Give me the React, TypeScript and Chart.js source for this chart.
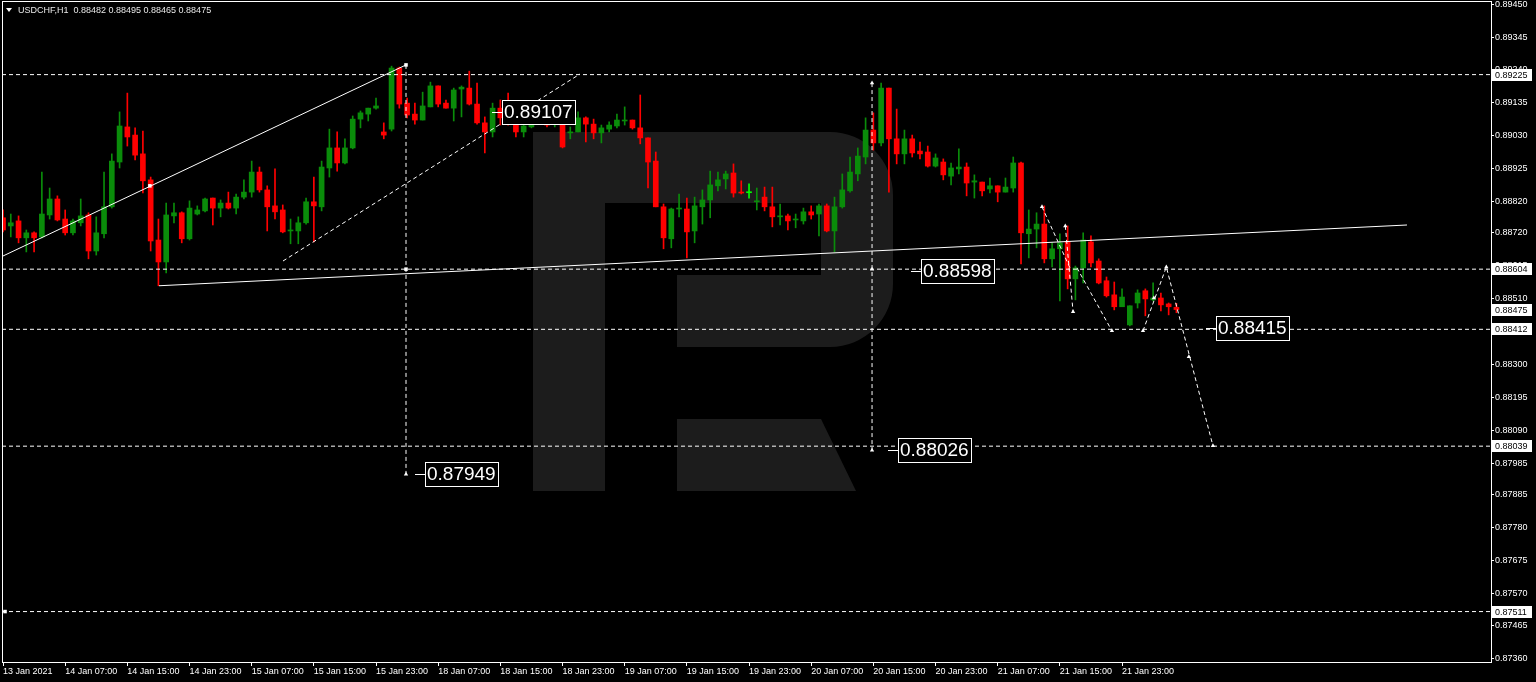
import React, { useEffect, useRef } from "react";
import { Chart, registerables } from "chart.js";

Chart.register(...registerables);

// ---------- DATA ----------
const symbolTitle = "USDCHF,H1";
const headerOHLC = ["0.88482", "0.88495", "0.88465", "0.88475"];

const opens = [
  0.88768, 0.88742, 0.88758, 0.88704, 0.8872, 0.88707, 0.88777, 0.88828, 0.88764, 0.8872,
  0.88752, 0.88777, 0.88662, 0.88717, 0.88803, 0.88946, 0.89058, 0.89032, 0.88972, 0.88889,
  0.88697, 0.88627, 0.88774, 0.88784, 0.88701, 0.8878, 0.8879, 0.88831, 0.88799, 0.88815,
  0.88799, 0.88834, 0.8885, 0.88914, 0.88857, 0.88806, 0.88793, 0.88726, 0.88726, 0.88752,
  0.88819, 0.88803, 0.88927, 0.88991, 0.88943, 0.88991, 0.89083, 0.89099, 0.89118, 0.89042,
  0.89051, 0.89246, 0.89134, 0.89099, 0.8908, 0.89122, 0.89189, 0.89134, 0.89118, 0.89179,
  0.89182, 0.89131, 0.89071, 0.89042, 0.89118, 0.89096, 0.89083, 0.89042, 0.89058, 0.8909,
  0.8909, 0.89071, 0.89087, 0.89039, 0.89042, 0.89087, 0.89067, 0.89039, 0.89051, 0.89061,
  0.89077, 0.8908, 0.89055, 0.89023, 0.88949, 0.88803, 0.88701, 0.88796, 0.88796, 0.88726,
  0.88803, 0.88825, 0.8887, 0.88892, 0.88911, 0.8885, 0.88848, 0.88819, 0.88834, 0.88803,
  0.88771, 0.88774, 0.88761, 0.88758, 0.88787, 0.8878, 0.88806, 0.88726, 0.88803, 0.88854,
  0.88908, 0.88962, 0.89048, 0.89007, 0.89182, 0.8902, 0.88972, 0.8902, 0.88981, 0.88978,
  0.88933, 0.88946, 0.88901, 0.88924, 0.8893, 0.88882, 0.88882, 0.8886, 0.8887, 0.8885,
  0.88863, 0.88943, 0.88717, 0.88732, 0.88748, 0.88637, 0.88669, 0.88691, 0.88573, 0.88608,
  0.88691, 0.8863, 0.88567, 0.88522, 0.88484, 0.88426, 0.88496, 0.88535, 0.88506, 0.88512,
  0.88493, 0.88482,
];
const highs = [
  0.88793, 0.8878, 0.88774, 0.88729, 0.88723, 0.88914, 0.88863, 0.88838, 0.88793, 0.88764,
  0.88828, 0.88784, 0.88771, 0.88914, 0.88972, 0.89106, 0.89166, 0.89055, 0.89045, 0.88898,
  0.88764, 0.88815, 0.88815, 0.88787, 0.88822, 0.88806, 0.88831, 0.88831, 0.88825, 0.8885,
  0.88844, 0.88889, 0.88949, 0.8893, 0.8887, 0.88924, 0.88809, 0.88764, 0.88771, 0.88831,
  0.88898, 0.88949, 0.89051, 0.89042, 0.8902, 0.89093, 0.89109, 0.89118, 0.8915, 0.89071,
  0.89252, 0.89249, 0.8915, 0.89134, 0.89169, 0.89201, 0.89189, 0.89144, 0.89182, 0.89189,
  0.89236, 0.89198, 0.8909, 0.89134, 0.89144, 0.89166, 0.89112, 0.89087, 0.89106, 0.89112,
  0.89103, 0.89099, 0.8909, 0.89058, 0.89106, 0.8909, 0.89083, 0.89064, 0.89074, 0.89099,
  0.89122, 0.8908, 0.8916, 0.89023, 0.88978, 0.88812, 0.88799, 0.88844, 0.88831, 0.88834,
  0.88857, 0.88917, 0.88914, 0.88917, 0.8894, 0.88886, 0.88876, 0.88863, 0.88866, 0.88866,
  0.88812, 0.8878, 0.8878, 0.88799, 0.88806, 0.88812, 0.88812, 0.88834, 0.88908, 0.88962,
  0.88991, 0.89087, 0.89103, 0.89198, 0.89182, 0.89115, 0.89048, 0.89032, 0.8901, 0.88997,
  0.88972, 0.88956, 0.88943, 0.88988, 0.88943, 0.88905, 0.88882, 0.88895, 0.8887, 0.88895,
  0.88962, 0.88946, 0.88793, 0.88784, 0.88806, 0.88688, 0.88717, 0.88742, 0.88614, 0.8872,
  0.8871, 0.88637, 0.88579, 0.88563, 0.88541, 0.88487, 0.88538, 0.88541, 0.8856, 0.88528,
  0.88496, 0.88495,
];
const lows = [
  0.88723, 0.88707, 0.88688, 0.88659, 0.88659, 0.88704, 0.88764, 0.88758, 0.88713, 0.88713,
  0.88742, 0.88637, 0.88649, 0.88704, 0.88799, 0.88927, 0.88997, 0.88953, 0.88847, 0.88662,
  0.88551, 0.88592, 0.88752, 0.88688, 0.88697, 0.88777, 0.88787, 0.88745, 0.88771, 0.88796,
  0.8878, 0.88828, 0.88834, 0.8885, 0.88726, 0.88764, 0.8872, 0.88685, 0.88685, 0.88748,
  0.88691, 0.8879, 0.88898, 0.88917, 0.8894, 0.88988, 0.89055, 0.89077, 0.89115, 0.8902,
  0.89045, 0.89118, 0.89087, 0.89067, 0.8908, 0.89122, 0.89122, 0.89118, 0.89077, 0.8909,
  0.89128, 0.89067, 0.88975, 0.89026, 0.89064, 0.89064, 0.89026, 0.89026, 0.89055, 0.8908,
  0.89058, 0.89058, 0.88991, 0.8902, 0.89042, 0.8901, 0.8902, 0.89007, 0.89042, 0.89055,
  0.89064, 0.89051, 0.89004, 0.88863, 0.88803, 0.88669, 0.88672, 0.88771, 0.8864, 0.88688,
  0.88748, 0.88768, 0.88854, 0.8886, 0.88834, 0.88844, 0.88831, 0.88793, 0.8879, 0.88739,
  0.88745, 0.88729, 0.88736, 0.88748, 0.88764, 0.8871, 0.88723, 0.88659, 0.88799, 0.8885,
  0.88886, 0.8894, 0.88984, 0.88997, 0.8885, 0.8894, 0.8894, 0.88962, 0.88956, 0.8893,
  0.8893, 0.88889, 0.88873, 0.88908, 0.88838, 0.88831, 0.88838, 0.88847, 0.88819, 0.8885,
  0.8885, 0.88621, 0.8864, 0.88672, 0.88624, 0.88611, 0.88503, 0.88541, 0.88506, 0.8856,
  0.88611, 0.88557, 0.88515, 0.88474, 0.88484, 0.88423, 0.8848, 0.88455, 0.88503, 0.88471,
  0.88458, 0.88465,
];
const closes = [
  0.88729, 0.88752, 0.88704, 0.8872, 0.88704, 0.8878, 0.88828, 0.88761, 0.8872, 0.88758,
  0.88774, 0.88662, 0.8872, 0.88803, 0.88949, 0.89061, 0.89026, 0.88968, 0.88886, 0.88694,
  0.88627, 0.88777, 0.88784, 0.88701, 0.88799, 0.88793, 0.88828, 0.88799, 0.88815, 0.88799,
  0.88834, 0.8885, 0.88914, 0.88857, 0.88803, 0.88787, 0.88723, 0.88729, 0.88752, 0.88819,
  0.88806, 0.8893, 0.88991, 0.88943, 0.88991, 0.89083, 0.89103, 0.89118, 0.89125, 0.89032,
  0.89246, 0.89131, 0.89096, 0.8908, 0.89125, 0.89189, 0.89131, 0.89118, 0.89176, 0.89185,
  0.89131, 0.89071, 0.89042, 0.89118, 0.89087, 0.89074, 0.89042, 0.89061, 0.8909, 0.89096,
  0.89064, 0.89083, 0.88994, 0.89042, 0.89087, 0.89067, 0.89039, 0.89055, 0.89064, 0.8908,
  0.8908, 0.89055, 0.89023, 0.88946, 0.88803, 0.88704, 0.88796, 0.88799, 0.88723, 0.88806,
  0.88825, 0.88873, 0.88889, 0.88908, 0.88847, 0.88847, 0.88848, 0.88822, 0.88803, 0.88771,
  0.88774, 0.88758, 0.88764, 0.88787, 0.88777, 0.88806, 0.88726, 0.88803, 0.88857, 0.88914,
  0.88965, 0.89048, 0.89007, 0.89182, 0.8902, 0.88972, 0.8902, 0.88975, 0.88972, 0.88933,
  0.88959, 0.88905, 0.88927, 0.8893, 0.88879, 0.88886, 0.88854, 0.8887, 0.8885, 0.88866,
  0.88943, 0.8872, 0.88732, 0.88748, 0.88637, 0.88669, 0.88688, 0.88573, 0.88608, 0.88697,
  0.88624, 0.8856, 0.88519, 0.88484, 0.88515, 0.88487, 0.88528, 0.88509, 0.88512, 0.8849,
  0.88484, 0.88475,
];

// x-axis: bar index of each time label
const xTickIndex = [0, 8, 16, 24, 32, 40, 48, 56, 64, 72, 80, 88, 96, 104, 112, 120, 128, 136, 144];
const xTickLabels = [
  "13 Jan 2021", "14 Jan 07:00", "14 Jan 15:00", "14 Jan 23:00", "15 Jan 07:00", "15 Jan 15:00",
  "15 Jan 23:00", "18 Jan 07:00", "18 Jan 15:00", "18 Jan 23:00", "19 Jan 07:00", "19 Jan 15:00",
  "19 Jan 23:00", "20 Jan 07:00", "20 Jan 15:00", "20 Jan 23:00", "21 Jan 07:00", "21 Jan 15:00",
  "21 Jan 23:00",
];
const yTickValues = [
  0.8945, 0.89345, 0.8924, 0.89135, 0.8903, 0.88925, 0.8882, 0.8872, 0.88615, 0.8851, 0.88405,
  0.883, 0.88195, 0.8809, 0.87985, 0.87885, 0.8778, 0.87675, 0.8757, 0.87465, 0.8736,
];
const xRange = [-0.13, 191.48];
const yRange = [0.8735, 0.8946];

// drawn objects (bar index, price)
const upTrendLine = [[0, 0.88646], [51.86, 0.89256]];
const supportLine = [[20.07, 0.88551], [180.67, 0.88745]];
const channelLine = [[36.03, 0.8863], [74.25, 0.89227]];
const verticalA = [[51.86, 0.89256], [51.86, 0.87949]];
const verticalB = [[111.83, 0.89198], [111.83, 0.88026]];
const forecastPaths = [
  [[133.7, 0.88803], [137.3, 0.88608]],
  [[136.7, 0.88742], [137.7, 0.88468]],
  [[138.2, 0.88608], [142.7, 0.88407]],
  [[146.7, 0.88407], [149.7, 0.88611], [155.7, 0.8804]],
];
const levelLines = [0.89225, 0.88604, 0.88412, 0.88039, 0.87511];
const squareMarkers = [[18.9, 0.8887], [51.86, 0.89256], [51.86, 0.88604], [0.26, 0.87511]];
const arrowMarkers = [
  [51.86, 0.87949], [111.83, 0.89198], [111.83, 0.88604], [111.83, 0.88026],
  [133.7, 0.88803], [136.7, 0.88742], [137.7, 0.88468], [142.7, 0.88407],
  [146.7, 0.88407], [148.1, 0.88512], [149.7, 0.88611], [152.6, 0.88324], [155.7, 0.8804],
];
const noteLabels = [
  [62.93, 0.89107], [116.84, 0.88598], [154.8, 0.88415], [53.0, 0.87949], [113.9, 0.88026],
];
const priceTags = [0.89225, 0.88604, 0.88475, 0.88412, 0.88039, 0.87511];

// ---------- STYLE ----------
const GREEN = "#0a8c0a";
const RED = "#ff0000";
const LIME = "#00ff00";
const WHITE = "#ffffff";
const AXIS_FONT = '"Liberation Sans", Arial, sans-serif';

const zeroPad = (scale: any) => {
  scale.paddingTop = 0;
  scale.paddingBottom = 0;
  scale.paddingLeft = 0;
  scale.paddingRight = 0;
};

const mtPlugin = {
  id: "mtDecor",
  beforeDraw(chart: any) {
    const { ctx, chartArea } = chart;
    ctx.save();
    ctx.fillStyle = "#000";
    ctx.fillRect(0, 0, chart.width, chart.height);
    // watermark logo
    ctx.beginPath();
    ctx.rect(chartArea.left, chartArea.top, chartArea.right - chartArea.left, chartArea.bottom - chartArea.top);
    ctx.clip();
    ctx.fillStyle = "#1c1c1c";
    ctx.beginPath();
    ctx.moveTo(533, 132);
    ctx.lineTo(830, 132);
    ctx.arcTo(893, 132, 893, 195, 63);
    ctx.lineTo(893, 284);
    ctx.arcTo(893, 347, 830, 347, 63);
    ctx.lineTo(677, 347);
    ctx.lineTo(677, 275);
    ctx.lineTo(821, 275);
    ctx.lineTo(821, 203);
    ctx.lineTo(605, 203);
    ctx.lineTo(605, 491);
    ctx.lineTo(533, 491);
    ctx.closePath();
    ctx.fill();
    ctx.beginPath();
    ctx.moveTo(677, 419);
    ctx.lineTo(821, 419);
    ctx.lineTo(856, 491);
    ctx.lineTo(677, 491);
    ctx.closePath();
    ctx.fill();
    ctx.restore();
  },
  afterDatasetsDraw(chart: any) {
    const { ctx, chartArea } = chart;
    const xs = chart.scales.x;
    const ys = chart.scales.y;
    ctx.save();
    ctx.beginPath();
    ctx.rect(chartArea.left, chartArea.top, chartArea.right - chartArea.left, chartArea.bottom - chartArea.top);
    ctx.clip();
    ctx.font = '19px "Liberation Sans", Arial, sans-serif';
    ctx.textBaseline = "middle";
    ctx.textAlign = "left";
    noteLabels.forEach(([xi, price]) => {
      const px = Math.round(xs.getPixelForValue(xi));
      const py = Math.round(ys.getPixelForValue(price));
      const text = price.toFixed(5);
      ctx.strokeStyle = WHITE;
      ctx.lineWidth = 1;
      ctx.beginPath();
      ctx.moveTo(px, py + 0.5);
      ctx.lineTo(px + 10, py + 0.5);
      ctx.stroke();
      const tw = ctx.measureText(text).width;
      const bx = px + 10;
      const bw = Math.round(tw + 4);
      const by = py - 12;
      ctx.fillStyle = "#000";
      ctx.fillRect(bx, by, bw, 24);
      ctx.strokeRect(bx + 0.5, by + 0.5, bw, 24);
      ctx.fillStyle = WHITE;
      ctx.fillText(text, bx + 2, py + 1);
    });
    ctx.restore();
  },
  afterDraw(chart: any) {
    const { ctx, chartArea } = chart;
    const ys = chart.scales.y;
    ctx.save();
    // frame
    ctx.strokeStyle = WHITE;
    ctx.lineWidth = 1;
    ctx.strokeRect(chartArea.left + 0.5, chartArea.top + 0.5, chartArea.right - chartArea.left, chartArea.bottom - chartArea.top);
    // price tags on axis
    ctx.font = `9px ${AXIS_FONT}`;
    ctx.textBaseline = "middle";
    ctx.textAlign = "left";
    priceTags.forEach((p) => {
      const py = Math.round(ys.getPixelForValue(p));
      ctx.fillStyle = WHITE;
      ctx.fillRect(chartArea.right + 1, py - 6, 40, 12);
      ctx.fillStyle = "#000";
      ctx.fillText(p.toFixed(5), chartArea.right + 4, py + 0.5);
    });
    // header
    ctx.fillStyle = WHITE;
    ctx.beginPath();
    ctx.moveTo(6, 8);
    ctx.lineTo(12, 8);
    ctx.lineTo(9, 12);
    ctx.closePath();
    ctx.fill();
    ctx.fillStyle = "#e8e8e8";
    ctx.fillText(`${symbolTitle}  ${headerOHLC.join(" ")}`, 18, 10.5);
    ctx.restore();
  },
};

export default function App() {
  const ref = useRef<HTMLCanvasElement>(null);

  useEffect(() => {
    document.body.style.margin = "0";
    document.body.style.background = "#000";
    const canvas = ref.current;
    if (!canvas) return;

    const idx = opens.map((_, i) => i);
    const colors = idx.map((i) => (closes[i] > opens[i] ? GREEN : closes[i] < opens[i] ? RED : LIME));
    const pts = (arr: number[][]) => arr.map(([x, y]) => ({ x, y }));
    const lineDs = (arr: number[][], dashed: boolean) => ({
      type: "line",
      data: pts(arr),
      borderColor: WHITE,
      borderWidth: 1,
      borderDash: dashed ? [4, 3] : [],
      pointRadius: 0,
      tension: 0,
      fill: false,
      order: 1,
    });

    const datasets: any[] = [
      {
        type: "line",
        data: pts(squareMarkers),
        showLine: false,
        pointStyle: "rect",
        pointRadius: 2.5,
        pointBackgroundColor: WHITE,
        pointBorderColor: WHITE,
        pointBorderWidth: 0,
        order: 0,
      },
      {
        type: "line",
        data: pts(arrowMarkers),
        showLine: false,
        pointStyle: "triangle",
        pointRadius: 2.5,
        pointBackgroundColor: WHITE,
        pointBorderColor: WHITE,
        pointBorderWidth: 0,
        order: 0,
      },
      lineDs(upTrendLine, false),
      lineDs(supportLine, false),
      lineDs(channelLine, true),
      lineDs(verticalA, true),
      lineDs(verticalB, true),
      ...forecastPaths.map((p) => lineDs(p, true)),
      ...levelLines.map((lv) => lineDs([[xRange[0], lv], [xRange[1], lv]], true)),
      {
        type: "bar",
        data: idx.map((i) => ({ x: i, y: [opens[i], closes[i]] })),
        backgroundColor: colors,
        borderWidth: 0,
        barThickness: 5,
        minBarLength: 1,
        grouped: false,
        order: 2,
      },
      {
        type: "bar",
        data: idx.map((i) => ({ x: i, y: [lows[i], highs[i]] })),
        backgroundColor: colors,
        borderWidth: 0,
        barThickness: 1,
        minBarLength: 1,
        grouped: false,
        order: 3,
      },
    ];

    const chart = new Chart(canvas, {
      type: "bar",
      data: { datasets },
      options: {
        animation: false,
        responsive: false,
        devicePixelRatio: 1,
        events: [],
        layout: { autoPadding: false, padding: { left: 2, top: 1, right: 0, bottom: 0 } },
        plugins: { legend: { display: false }, tooltip: { enabled: false } },
        scales: {
          x: {
            type: "linear",
            min: xRange[0],
            max: xRange[1],
            offset: false,
            grid: { offset: false, drawOnChartArea: false, drawTicks: true, tickLength: 4, color: WHITE },
            border: { display: false },
            afterBuildTicks: (axis: any) => {
              axis.ticks = xTickIndex.map((v) => ({ value: v }));
            },
            afterFit: (scale: any) => {
              scale.height = 20;
              zeroPad(scale);
            },
            ticks: {
              autoSkip: false,
              maxRotation: 0,
              minRotation: 0,
              align: "start",
              padding: 0,
              color: WHITE,
              font: { family: AXIS_FONT, size: 9 },
              callback: (_v: any, i: number) => xTickLabels[i],
            },
          },
          y: {
            type: "linear",
            position: "right",
            min: yRange[0],
            max: yRange[1],
            beginAtZero: false,
            grid: { drawOnChartArea: false, drawTicks: true, tickLength: 3, color: WHITE },
            border: { display: false },
            afterBuildTicks: (axis: any) => {
              axis.ticks = yTickValues.map((v) => ({ value: v }));
            },
            afterFit: (scale: any) => {
              scale.width = 45;
              zeroPad(scale);
            },
            ticks: {
              autoSkip: false,
              padding: 1,
              color: WHITE,
              font: { family: AXIS_FONT, size: 9 },
              callback: (v: any) => Number(v).toFixed(5),
            },
          },
        },
      } as any,
      plugins: [mtPlugin],
    } as any);

    return () => chart.destroy();
  }, []);

  return (
    <div style={{ position: "absolute", left: 0, top: 0, width: 1536, height: 682, background: "#000" }}>
      <canvas ref={ref} width={1536} height={682} style={{ display: "block", width: 1536, height: 682 }} />
    </div>
  );
}
